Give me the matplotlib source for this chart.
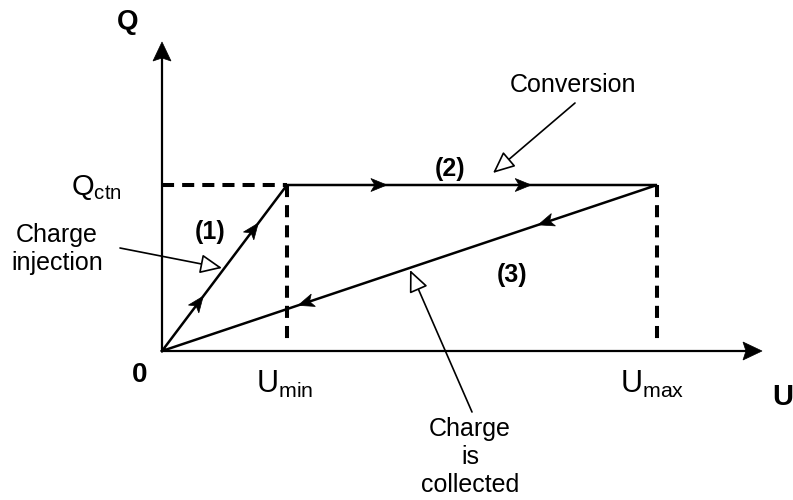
import numpy as np
import matplotlib
matplotlib.use("Agg")
import matplotlib.pyplot as plt
from matplotlib.patches import Polygon

plt.rcParams['font.family'] = ['Liberation Sans', 'DejaVu Sans']
plt.rcParams['mathtext.fontset'] = 'custom'
plt.rcParams['mathtext.rm'] = 'Liberation Sans'
plt.rcParams['mathtext.it'] = 'Liberation Sans'

# ---- data (diagram units) ----
U_min = 125
U_max = 495
Q_ctn = 166
U_axis_end = 600
Q_axis_end = 309

cycle_U = [0, U_min, U_max, 0]
cycle_Q = [0, Q_ctn, Q_ctn, 0]
# arrowhead positions as fractions along each cycle segment
arrow_fracs = [[0.33, 0.77], [0.27, 0.66], [0.24, 0.725]]

stage_labels = ["(1)", "(2)", "(3)"]
stage_label_pos = [(48, 119), (288, 182), (350, 76)]

fig = plt.figure(figsize=(7.93, 5.0), dpi=100)
ax = fig.add_axes([0, 0, 1, 1])
ax.set_xlim(-162, 631)
ax.set_ylim(-149, 351)
ax.axis('off')


def stealth(ax, tip, direction, length=16, width=13, notch=4, color='black'):
    d = np.asarray(direction, float)
    d = d / np.linalg.norm(d)
    n = np.array([-d[1], d[0]])
    tip = np.asarray(tip, float)
    back = tip - d * length
    pts = [tip, back + n * width / 2, tip - d * (length - notch), back - n * width / 2]
    ax.add_patch(Polygon(pts, closed=True, facecolor=color, edgecolor=color, lw=0.5, zorder=5))


# axes
ax.plot([0, U_axis_end - 15], [0, 0], color='black', lw=1.6, solid_capstyle='butt')
ax.plot([0, 0], [0, Q_axis_end - 15], color='black', lw=1.6, solid_capstyle='butt')
stealth(ax, (U_axis_end, 0), (1, 0), length=19, width=18, notch=3)
stealth(ax, (0, Q_axis_end), (0, 1), length=19, width=18, notch=3)

# dashed guides
dash = dict(color='black', lw=2.9, dashes=(3, 2), solid_capstyle='butt')
ax.plot([0, U_min], [Q_ctn, Q_ctn], **dash)
ax.plot([U_min, U_min], [Q_ctn, 6], **dash)
ax.plot([U_max, U_max], [Q_ctn, 6], **dash)

# cycle path
ax.plot(cycle_U, cycle_Q, color='black', lw=1.8, solid_joinstyle='miter', zorder=4)
for i in range(3):
    p0 = np.array([cycle_U[i], cycle_Q[i]], float)
    p1 = np.array([cycle_U[i + 1], cycle_Q[i + 1]], float)
    for f in arrow_fracs[i]:
        stealth(ax, p0 + (p1 - p0) * f, p1 - p0)

# stage labels
for lab, (x, y) in zip(stage_labels, stage_label_pos):
    ax.text(x, y, lab, fontsize=18, fontweight='bold', ha='center', va='center')

# axis labels
ax.text(-34, 329, "Q", fontsize=20, fontweight='bold', ha='center', va='center')
ax.text(-22, -24, "0", fontsize=20, fontweight='bold', ha='center', va='center')
ax.text(621, -46, "U", fontsize=21, fontweight='bold', ha='center', va='center')
ax.text(-40, 163, r"$\mathrm{Q_{ctn}}$", fontsize=21, ha='right', va='center')
ax.text(123, -33, r"$\mathrm{U_{min}}$", fontsize=22, ha='center', va='center')
ax.text(490, -33, r"$\mathrm{U_{max}}$", fontsize=22, ha='center', va='center')

# callouts
hollow = dict(arrowstyle='-|>,head_length=0.9,head_width=0.4', fc='white', ec='black',
              lw=1.2, shrinkA=0, shrinkB=0, mutation_scale=15)
ax.annotate("", xy=(60, 83), xytext=(-42, 103), arrowprops=hollow)
ax.text(-105, 102, "Charge\ninjection", fontsize=18, ha='center', va='center', linespacing=1.25)

ax.annotate("", xy=(331, 178), xytext=(413, 248), arrowprops=hollow)
ax.text(411, 266, "Conversion", fontsize=18, ha='center', va='center')

ax.annotate("", xy=(248, 81), xytext=(310, -61), arrowprops=hollow)
ax.text(308, -106, "Charge\nis\ncollected", fontsize=18, ha='center', va='center', linespacing=1.2)

fig.savefig("out.png", dpi=100)
